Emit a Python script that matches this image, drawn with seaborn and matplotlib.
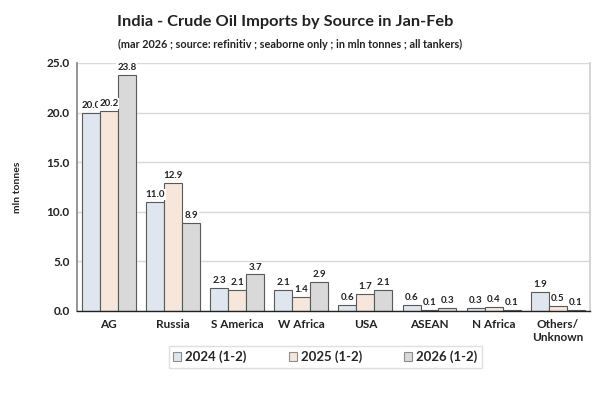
import matplotlib
matplotlib.use("Agg")
import matplotlib.pyplot as plt
import seaborn as sns
import pandas as pd

categories = ["AG", "Russia", "S America", "W Africa", "USA", "ASEAN", "N Africa", "Others/\nUnknown"]
series_names = ["2024 (1-2)", "2025 (1-2)", "2026 (1-2)"]
v2024 = [20.0, 11.0, 2.3, 2.1, 0.6, 0.6, 0.3, 1.9]
v2025 = [20.2, 12.9, 2.1, 1.4, 1.7, 0.1, 0.4, 0.5]
v2026 = [23.8, 8.9, 3.7, 2.9, 2.1, 0.3, 0.1, 0.1]
yticks = [0.0, 5.0, 10.0, 15.0, 20.0, 25.0]
colors = ["#dce6f2", "#fbe5d6", "#d9d9d9"]

rows = []
for s, vals in zip(series_names, [v2024, v2025, v2026]):
    for c, v in zip(categories, vals):
        rows.append({"source": c, "period": s, "value": v})
df = pd.DataFrame(rows)

sns.set_theme(style="white")
plt.rcParams["font.family"] = ["Lato", "DejaVu Sans"]

fig = plt.figure(figsize=(6, 3.93), dpi=100)
ax = fig.add_axes([0.128, 0.2087, 0.855, 0.631])

sns.barplot(data=df, x="source", y="value", hue="period", order=categories,
            hue_order=series_names, palette=colors, width=0.84, gap=0,
            edgecolor="#595959", linewidth=0.8, ax=ax, legend=True, zorder=3)

ax.set_ylim(0, 25)
ax.set_yticks(yticks)
ax.set_yticklabels([f"{t:.1f}" for t in yticks], fontsize=8.5, fontweight="bold", color="#222222")
ax.set_xlim(-0.5, len(categories) - 0.5)
ax.tick_params(axis="y", length=3, width=0.8, color="#888888", pad=2)
ax.tick_params(axis="x", length=0, pad=6)
for lbl in ax.get_xticklabels():
    lbl.set_fontsize(8.5)
    lbl.set_fontweight("bold")
    lbl.set_color("#222222")
ax.set_xlabel("")
ax.set_ylabel("mln tonnes", fontsize=7.5, fontweight="bold", color="#222222", labelpad=18)
ax.yaxis.grid(True, color="#d9d9d9", linewidth=1.0, zorder=0)
ax.set_axisbelow(True)
ax.spines["top"].set_visible(False)
ax.spines["right"].set_color("#d0d0d0")
ax.spines["left"].set_color("#888888")
ax.spines["bottom"].set_color("#222222")
ax.spines["bottom"].set_linewidth(1.0)
ax.spines["bottom"].set_zorder(5)

for cont in ax.containers:
    ax.bar_label(cont, fmt="%.1f", padding=2, fontsize=7, fontweight="bold",
                 color="#222222",
                 bbox=dict(boxstyle="square,pad=0.1", facecolor="white", edgecolor="none"))

leg = ax.get_legend()
handles = leg.legend_handles
for h in handles:
    h.set_edgecolor("#8c8c8c")
    h.set_linewidth(0.8)
leg.remove()
fig.legend(handles, series_names, loc="center", bbox_to_anchor=(0.542, 0.0916),
           ncol=3, frameon=True, prop={"weight": "bold", "size": 9.5},
           handlelength=0.6, handleheight=0.6, handletextpad=0.3,
           columnspacing=3.2, edgecolor="#d8d8d8", fancybox=False,
           borderpad=0.35)

fig.text(0.475, 0.944, "India - Crude Oil Imports by Source in Jan-Feb",
         ha="center", va="center", fontsize=11.8, fontweight="bold", color="#222222")
fig.text(0.483, 0.888, "(mar 2026 ; source: refinitiv ; seaborne only ; in mln tonnes ; all tankers)",
         ha="center", va="center", fontsize=7.8, fontweight="bold", color="#222222")

fig.savefig("out.png", dpi=100, facecolor="white")
